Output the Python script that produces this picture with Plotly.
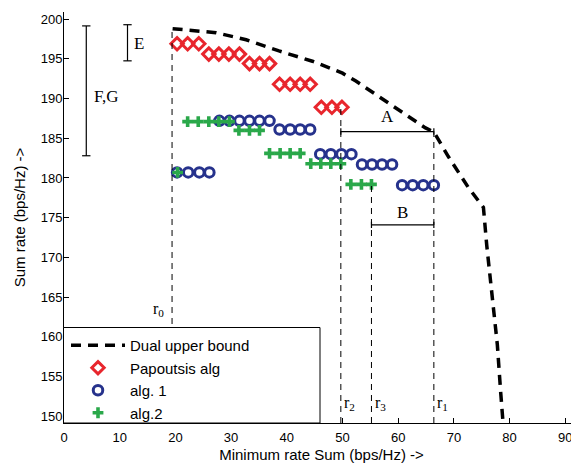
import plotly.graph_objects as go

# ---- data ----
bound_x = [19.5, 27.3, 32.7, 38.6, 44.6, 50.0, 52.4, 59.2, 64.9, 66.4, 69.0, 72.6, 75.3, 75.9, 76.9, 77.8, 78.4, 78.9]
bound_y = [198.8, 198.3, 197.4, 196.0, 194.7, 193.2, 192.2, 189.0, 186.3, 185.8, 182.7, 178.8, 176.3, 171.5, 165.0, 159.0, 153.0, 148.5]

pap_x = [20.3, 22.2, 24.2, 26.0, 27.8, 29.6, 31.5, 33.3, 35.1, 36.9, 38.7, 40.6, 42.4, 44.2, 46.2, 48.1, 49.9]
pap_y = [196.9, 196.9, 196.9, 195.6, 195.6, 195.6, 195.6, 194.4, 194.4, 194.4, 191.8, 191.8, 191.8, 191.8, 188.9, 188.9, 188.9]

alg1_x = [20.3, 22.3, 24.3, 26.1, 27.9, 29.7, 31.5, 33.3, 35.1, 36.9, 38.7, 40.6, 42.4, 44.2,
          46.0, 47.9, 49.8, 51.6, 53.5, 55.3, 57.1, 58.9, 60.7, 62.6, 64.5, 66.4]
alg1_y = [180.7, 180.7, 180.7, 180.7, 187.2, 187.2, 187.2, 187.2, 187.2, 187.2, 186.1, 186.1, 186.1, 186.1,
          183.0, 183.0, 183.0, 183.0, 181.7, 181.7, 181.7, 181.7, 179.1, 179.1, 179.1, 179.1]

alg2_x = [20.4, 22.2, 24.1, 26.0, 27.8, 29.7, 31.4, 33.3, 35.1, 36.9, 38.8, 40.6, 42.4,
          44.3, 46.1, 47.9, 49.7, 51.5, 53.4, 55.2]
alg2_y = [180.7, 187.1, 187.1, 187.1, 187.1, 187.1, 186.0, 186.0, 186.0, 183.1, 183.1, 183.1, 183.1,
          181.8, 181.8, 181.8, 181.8, 179.2, 179.2, 179.2]

# reference lines r0..r3: x position and top y
r_names = ["r<sub>0</sub>", "r<sub>2</sub>", "r<sub>3</sub>", "r<sub>1</sub>"]
r_x = [19.4, 49.7, 55.2, 66.4]
r_top = [198.6, 188.7, 179.3, 185.9]

x_ticks = [0, 10, 20, 30, 40, 50, 60, 70, 80, 90]
y_ticks = [150, 155, 160, 165, 170, 175, 180, 185, 190, 195, 200]

X_RANGE = [0, 92.46]
Y_RANGE = [149.15, 200.9]

fig = go.Figure()
fig.add_trace(go.Scatter(x=bound_x, y=bound_y, mode="lines", name="Dual upper bound",
                         line=dict(color="black", width=3.5, dash="10px,7px")))
fig.add_trace(go.Scatter(x=pap_x, y=pap_y, mode="markers", name="Papoutsis alg",
                         marker=dict(symbol="diamond-open", size=9.5, color="#e8262d",
                                     line=dict(width=3, color="#e8262d"))))
fig.add_trace(go.Scatter(x=alg1_x, y=alg1_y, mode="markers", name="alg. 1",
                         marker=dict(symbol="circle-open", size=9.5, color="#26328c",
                                     line=dict(width=3, color="#26328c"))))
fig.add_trace(go.Scatter(x=alg2_x, y=alg2_y, mode="markers", name="alg.2",
                         marker=dict(symbol="cross", size=9, color="#2aa84a",
                                     line=dict(width=0))))

shapes = []
dash_thin = "6px,5px"
for xv, top in zip(r_x, r_top):
    shapes.append(dict(type="line", x0=xv, x1=xv, y0=Y_RANGE[0], y1=top,
                       line=dict(color="black", width=1, dash=dash_thin)))

def hbar(x0, x1, y, cap=0.4):
    shapes.append(dict(type="line", x0=x0, x1=x1, y0=y, y1=y, line=dict(color="black", width=1.2)))
    for xv in (x0, x1):
        shapes.append(dict(type="line", x0=xv, x1=xv, y0=y - cap, y1=y + cap, line=dict(color="black", width=1.2)))

def vbar(x, y0, y1, cap=0.75):
    shapes.append(dict(type="line", x0=x, x1=x, y0=y0, y1=y1, line=dict(color="black", width=1.2)))
    for yv in (y0, y1):
        shapes.append(dict(type="line", x0=x - cap, x1=x + cap, y0=yv, y1=yv, line=dict(color="black", width=1.2)))

hbar(49.7, 66.4, 185.85)
hbar(55.2, 66.4, 174.1)
vbar(11.4, 194.75, 199.3)
vbar(4.0, 182.8, 199.15)

# The page body has an 8px default margin; size the figure so it fills the 579x463 window.
BODY = 8
PW, PH = 579 - BODY, 463 - BODY
ML, MR, MT, MB = 64 - BODY, 0, 12 - BODY, 40
plot_w = PW - ML - MR
plot_h = PH - MT - MB
def px_to_paper_x(px):
    return (px - BODY - ML) / plot_w
def px_to_paper_y(py):
    return (BODY + PH - MB - py) / plot_h

shapes.append(dict(type="rect", xref="paper", yref="paper",
                   x0=px_to_paper_x(63.5), x1=px_to_paper_x(320), y0=0, y1=px_to_paper_y(327.5),
                   fillcolor="white", line=dict(color="black", width=1), layer="above"))

sans = "Liberation Sans, Arial, sans-serif"
serif_family = "Liberation Serif, Times New Roman, serif"
serif = dict(family=serif_family, size=17, color="black")
rfont = dict(family=serif_family, size=16, color="black")
ann = [
    dict(x=58.0, y=187.7, text="A", showarrow=False, font=serif),
    dict(x=60.8, y=175.6, text="B", showarrow=False, font=serif),
    dict(x=12.2, y=196.9, text="E", showarrow=False, font=serif, xanchor="left"),
    dict(x=5.0, y=190.3, text="F,G", showarrow=False, font=serif, xanchor="left"),
    dict(x=16.9, y=163.4, text=r_names[0], showarrow=False, font=rfont),
]
for name, xv in zip(r_names[1:], r_x[1:]):
    ann.append(dict(x=xv + 0.2, y=151.6, text=name, showarrow=False, font=rfont, xanchor="left"))

fig.update_layout(
    width=PW, height=PH,
    margin=dict(l=ML, r=MR, t=MT, b=MB, pad=0),
    paper_bgcolor="white", plot_bgcolor="white",
    font=dict(family=sans, size=13, color="black"),
    shapes=shapes, annotations=ann,
    showlegend=True,
    legend=dict(x=px_to_paper_x(66), y=px_to_paper_y(329), xanchor="left", yanchor="top",
                bgcolor="rgba(0,0,0,0)", borderwidth=0, font=dict(family=sans, size=15),
                itemwidth=54, tracegroupgap=0),
    xaxis=dict(range=X_RANGE, tickvals=x_ticks, ticks="inside", ticklen=5, tickcolor="black",
               showline=True, linecolor="black", linewidth=1, showgrid=False, zeroline=False,
               automargin=False, ticklabelstandoff=2,
               title=dict(text="Minimum rate Sum (bps/Hz) ->", standoff=5,
                          font=dict(family=sans, size=15, color="black"))),
    yaxis=dict(range=Y_RANGE, tickvals=y_ticks, ticks="inside", ticklen=5, tickcolor="black",
               showline=True, linecolor="black", linewidth=1, showgrid=False, zeroline=False,
               automargin=False, ticklabelstandoff=-2,
               title=dict(text="Sum rate (bps/Hz) ->", standoff=11,
                          font=dict(family=sans, size=15, color="black"))),
)
fig.write_html("out.html")
